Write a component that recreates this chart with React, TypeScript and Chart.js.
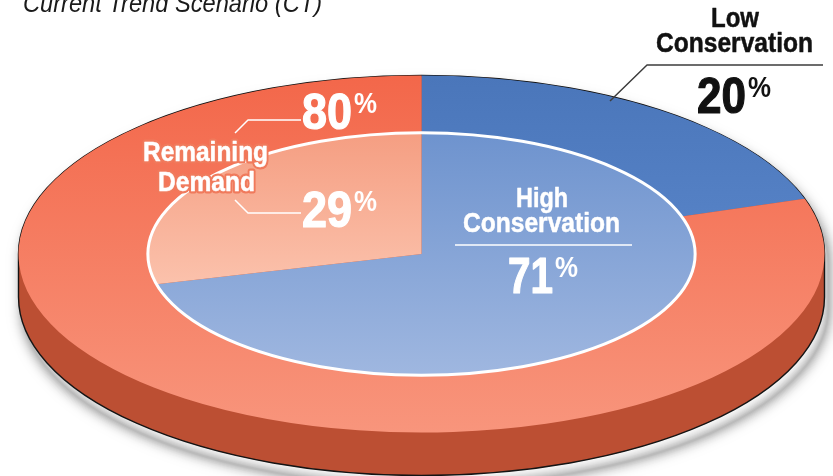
import React, { useEffect, useRef } from "react";
import { Chart, registerables } from "chart.js";

Chart.register(...registerables);

// Shares of demand for the outer ring and the inner disc, in percent.
const ringLabels = ["Low Conservation", "Remaining Demand"];
const ringShares = [20, 80];
const discLabels = ["High Conservation", "Remaining Demand"];
const discShares = [71, 29];

const SCENARIO_TITLE = "Current Trend Scenario (CT)";

const WIDTH = 833;
const HEIGHT = 476;

// Tilted-disc projection of the pie.
const CENTER_X = 421.5;
const CENTER_Y = 254;
const RADIUS_X = 403;
const RADIUS_Y = 178.5;
const DEPTH = 43;
const DISC_RATIO = 0.679;

const SANS = '"Liberation Sans", Arial, sans-serif';

function linear(ctx: CanvasRenderingContext2D, y0: number, y1: number, c0: string, c1: string) {
  const g = ctx.createLinearGradient(0, y0, 0, y1);
  g.addColorStop(0, c0);
  g.addColorStop(1, c1);
  return g;
}

function silhouette(ctx: CanvasRenderingContext2D) {
  ctx.beginPath();
  ctx.ellipse(CENTER_X, CENTER_Y, RADIUS_X, RADIUS_Y, 0, Math.PI, 2 * Math.PI);
  ctx.lineTo(CENTER_X + RADIUS_X, CENTER_Y + DEPTH);
  ctx.ellipse(CENTER_X, CENTER_Y + DEPTH, RADIUS_X, RADIUS_Y, 0, 0, Math.PI);
  ctx.closePath();
}

function label(
  ctx: CanvasRenderingContext2D,
  text: string,
  x: number,
  y: number,
  width: number,
  font: string,
  color: string,
  halo?: string,
  weightStroke = 0,
) {
  ctx.font = font;
  ctx.textAlign = "left";
  ctx.textBaseline = "alphabetic";
  ctx.lineJoin = "round";
  if (halo) {
    ctx.strokeStyle = halo;
    ctx.lineWidth = 5;
    ctx.strokeText(text, x, y, width);
  }
  if (weightStroke) {
    ctx.strokeStyle = color;
    ctx.lineWidth = weightStroke;
    ctx.strokeText(text, x, y, width);
  }
  ctx.fillStyle = color;
  ctx.fillText(text, x, y, width);
}

function percent(
  ctx: CanvasRenderingContext2D,
  value: number,
  x: number,
  baseline: number,
  color: string,
  width = 50,
) {
  label(ctx, String(value), x, baseline, width, `bold 50px ${SANS}`, color, undefined, 1.2);
  label(ctx, "%", x + width + 2, baseline - 16, 23, `bold 30px ${SANS}`, color);
}

function polyline(ctx: CanvasRenderingContext2D, pts: number[][], color: string, width: number) {
  ctx.beginPath();
  pts.forEach(([x, y], i) => (i ? ctx.lineTo(x, y) : ctx.moveTo(x, y)));
  ctx.strokeStyle = color;
  ctx.lineWidth = width;
  ctx.stroke();
}

const tiltedDisc = {
  id: "tiltedDisc",
  beforeDatasetsDraw(chart: Chart) {
    const ctx = chart.ctx;
    // Soft drop shadow: widening translucent outlines, fading towards the rim
    ctx.save();
    ctx.translate(4, 10);
    ctx.lineJoin = "round";
    const reach = 44;
    for (let spread = reach; spread >= 2; spread -= 2) {
      const t = 1 - spread / (reach + 2);
      ctx.strokeStyle = `rgba(30,30,30,${(0.05 * t * t).toFixed(4)})`;
      silhouette(ctx);
      ctx.lineWidth = spread;
      ctx.stroke();
    }
    ctx.restore();

    silhouette(ctx);
    ctx.fillStyle = "#BC4F33";
    ctx.fill();
    ctx.strokeStyle = "#141414";
    ctx.lineWidth = 1.4;
    ctx.stroke();

    const base = Math.min(chart.width, chart.height) / 2;
    ctx.save();
    ctx.translate(CENTER_X, CENTER_Y);
    ctx.scale(RADIUS_X / base, RADIUS_Y / base);
    ctx.translate(-chart.width / 2, -chart.height / 2);
  },
  afterDatasetsDraw(chart: Chart) {
    const ctx = chart.ctx;
    ctx.restore();

    ctx.beginPath();
    ctx.ellipse(CENTER_X, CENTER_Y, RADIUS_X * DISC_RATIO, RADIUS_Y * DISC_RATIO, 0, 0, 2 * Math.PI);
    ctx.strokeStyle = "#FFFFFF";
    ctx.lineWidth = 3;
    ctx.stroke();
  },
  afterDraw(chart: Chart) {
    const ctx = chart.ctx;
    label(ctx, SCENARIO_TITLE, 23, 12, 299, `italic 26px ${SANS}`, "#1A1A1A");

    // Low conservation callout
    const [lowA, lowB] = ringLabels[0].split(" ");
    label(ctx, lowA, 711, 27, 48, `bold 28px ${SANS}`, "#111111", undefined, 0.5);
    label(ctx, lowB, 656, 52, 157, `bold 28px ${SANS}`, "#111111", undefined, 0.5);
    polyline(ctx, [[610, 101], [647, 65], [823, 65]], "#3C3C3C", 1.5);
    percent(ctx, ringShares[0], 697, 113, "#111111", 49);

    // High conservation label
    const [highA, highB] = discLabels[0].split(" ");
    label(ctx, highA, 516, 207, 52, `bold 28px ${SANS}`, "#FFFFFF", undefined, 0.5);
    label(ctx, highB, 463, 232, 157, `bold 28px ${SANS}`, "#FFFFFF", undefined, 0.5);
    polyline(ctx, [[455, 245], [632, 245]], "#FFFFFF", 1.5);
    percent(ctx, discShares[0], 508, 293, "#FFFFFF", 45);

    // Remaining demand label with its two leaders
    const [remA, remB] = ringLabels[1].split(" ");
    label(ctx, remA, 143, 161, 125, `bold 27px ${SANS}`, "#FFFFFF", "#F07A5C", 0.5);
    label(ctx, remB, 158, 191, 97, `bold 27px ${SANS}`, "#FFFFFF", "#F07A5C", 0.5);
    polyline(ctx, [[235, 133], [248, 120], [301, 120]], "#FFFFFF", 1.5);
    polyline(ctx, [[235, 200], [248, 213], [301, 213]], "#FFFFFF", 1.5);
    percent(ctx, ringShares[1], 302, 129, "#FFFFFF");
    percent(ctx, discShares[1], 302, 227, "#FFFFFF");
  },
};

export default function App() {
  const canvasRef = useRef<HTMLCanvasElement | null>(null);

  useEffect(() => {
    const canvas = canvasRef.current!;
    const ctx = canvas.getContext("2d")!;
    const chart = new Chart(canvas, {
      type: "doughnut",
      data: {
        labels: ringLabels,
        datasets: [
          {
            data: ringShares,
            weight: 1 - DISC_RATIO,
            backgroundColor: [
              linear(ctx, 0, 190, "#4A76BA", "#5581C5"),
              linear(ctx, 0, 476, "#F3674A", "#F8957C"),
            ],
            borderWidth: 0,
          },
          {
            data: discShares,
            weight: DISC_RATIO,
            backgroundColor: [
              linear(ctx, 77, 399, "#6E93CE", "#9FB7E0"),
              linear(ctx, 77, 275, "#F59E82", "#FBC1AB"),
            ],
            borderWidth: 0,
          },
        ],
      },
      options: {
        responsive: false,
        animation: false,
        cutout: 0,
        events: [],
        layout: { padding: 0 },
        plugins: { legend: { display: false }, tooltip: { enabled: false } },
      },
      plugins: [tiltedDisc],
    } as any);
    return () => chart.destroy();
  }, []);

  return (
    <div style={{ position: "absolute", left: 0, top: 0, width: WIDTH, height: HEIGHT, overflow: "hidden", background: "#FFFFFF" }}>
      <canvas ref={canvasRef} width={WIDTH} height={HEIGHT} style={{ display: "block" }} />
    </div>
  );
}
